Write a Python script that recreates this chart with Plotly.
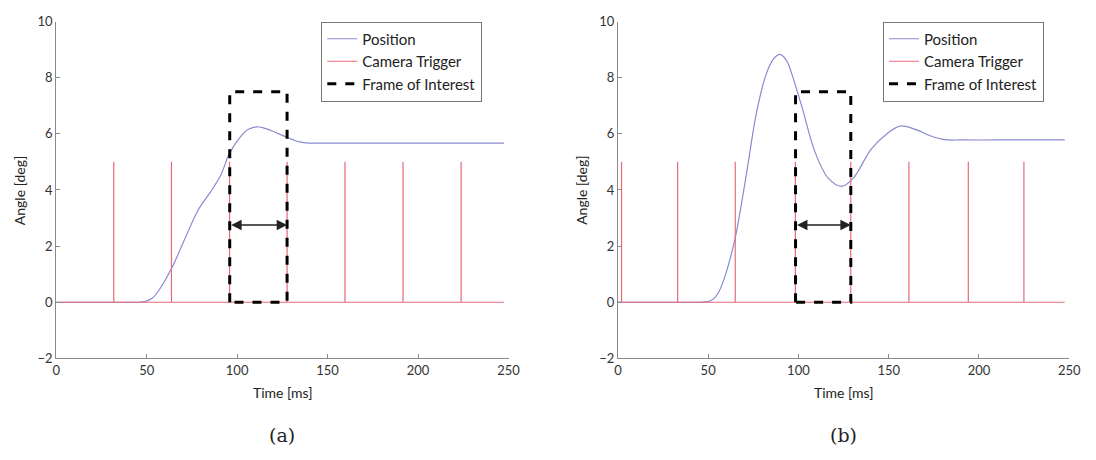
import plotly.graph_objects as go

# ---- data ----
time_a = [0, 20, 40, 46, 49, 53, 56.5, 63.7, 71, 78.3, 85.5, 91, 95.5, 101.9, 106, 110.9, 115, 120, 127.3, 134.5,
          140, 150, 170, 200, 230, 247.5]
angle_a = [0, 0, 0, 0, 0.02, 0.14, 0.4, 1.2, 2.24, 3.27, 3.95, 4.53, 5.27, 5.9, 6.15, 6.25, 6.2, 6.08, 5.88, 5.71,
           5.67, 5.67, 5.67, 5.67, 5.67, 5.67]

time_b = [0, 20, 40, 46, 50, 53, 55.5, 58.4, 64.8, 71.1, 76.6, 82, 86, 89.7, 93.5, 96.6, 102, 109.3, 116.6,
          123.9, 130.3, 140.3, 149.4, 156.7, 165.8, 173, 181.2, 190, 210, 230, 247.5]
angle_b = [0, 0, 0, 0, 0.02, 0.12, 0.32, 0.75, 2.24, 4.53, 6.7, 8.1, 8.65, 8.83, 8.6, 8.08, 6.94, 5.33, 4.41,
           4.13, 4.41, 5.45, 6.02, 6.28, 6.13, 5.93, 5.79, 5.78, 5.78, 5.78, 5.78]

triggers_a = [31.8, 63.7, 95.8, 127.6, 159.6, 191.7, 223.8]
triggers_b = [2.0, 33.1, 65.0, 98.3, 129.0, 161.2, 194.1, 224.9]
trigger_height = 5
t_end = 247.5

frame_a = (95.9, 127.6)
frame_b = (98.4, 129.0)
frame_top = 7.5
arrow_y = 2.75

x_ticks = [0, 50, 100, 150, 200, 250]
y_ticks = [-2, 0, 2, 4, 6, 8, 10]
panel_labels = ["(a)", "(b)"]

BLUE = "#8a8ad0"
RED = "#e8697a"
AXIS = "#8a8a8a"
FONT = "Lato"


def trigger_xy(times):
    xs, ys = [0], [0]
    for t in times:
        xs += [t, t, t]
        ys += [0, trigger_height, 0]
    xs.append(t_end)
    ys.append(0)
    return xs, ys


fig = go.Figure()

panels = [
    (time_a, angle_a, triggers_a, frame_a, "x", "y", "legend"),
    (time_b, angle_b, triggers_b, frame_b, "x2", "y2", "legend2"),
]

for tm, ang, trig, fr, xa, ya, lg in panels:
    fig.add_trace(go.Scatter(x=tm, y=ang, mode="lines", name="Position",
                             line=dict(color=BLUE, width=1.2, shape="spline", smoothing=0.9),
                             xaxis=xa, yaxis=ya, legend=lg))
    tx, ty = trigger_xy(trig)
    fig.add_trace(go.Scatter(x=tx, y=ty, mode="lines", name="Camera Trigger",
                             line=dict(color=RED, width=1.2),
                             xaxis=xa, yaxis=ya, legend=lg))
    fig.add_trace(go.Scatter(x=[fr[0], fr[0], fr[1], fr[1], fr[0]],
                             y=[0, frame_top, frame_top, 0, 0], mode="lines",
                             name="Frame of Interest",
                             line=dict(color="black", width=3, dash="dash"),
                             xaxis=xa, yaxis=ya, legend=lg))
    fig.add_annotation(x=fr[1], y=arrow_y, ax=fr[0], ay=arrow_y, xref=xa, yref=ya,
                       axref=xa, ayref=ya, text="", showarrow=True,
                       arrowhead=2, arrowside="end+start", arrowsize=1.3,
                       arrowwidth=1.6, arrowcolor="#222222")

W, H = 1096, 460
dom_y = [1 - 363 / H, 1 - 14 / H]
dom_xa = [53 / W, 512 / W]
dom_xb = [623 / W, 1081 / W]

axis_common = dict(showgrid=False, zeroline=False, showline=True, linecolor=AXIS, linewidth=1,
                   ticks="inside", ticklen=4, tickcolor=AXIS,
                   tickfont=dict(family=FONT, size=13, color="#333333"))

legend_common = dict(xanchor="left", yanchor="top",
                     bordercolor="#777777", borderwidth=1, bgcolor="white",
                     font=dict(family=FONT, size=15, color="#222222"), tracegroupgap=0)

fig.update_layout(
    width=W, height=H, margin=dict(l=0, r=0, t=0, b=0),
    paper_bgcolor="white", plot_bgcolor="white",
    font=dict(family=FONT, color="#222222"),
    xaxis=dict(domain=dom_xa, range=[0, 250], tickvals=x_ticks, anchor="y", **axis_common),
    yaxis=dict(domain=dom_y, range=[-2, 10], tickvals=y_ticks, anchor="x", **axis_common),
    xaxis2=dict(domain=dom_xb, range=[0, 250], tickvals=x_ticks, anchor="y2", **axis_common),
    yaxis2=dict(domain=dom_y, range=[-2, 10], tickvals=y_ticks, anchor="x2", **axis_common),
    legend=dict(x=322 / W, y=1 - 14 / H, **legend_common),
    legend2=dict(x=892 / W, y=1 - 14 / H, **legend_common),
)

for cx, lab in [((dom_xa[0] + dom_xa[1]) / 2, panel_labels[0]), ((dom_xb[0] + dom_xb[1]) / 2, panel_labels[1])]:
    fig.add_annotation(x=cx, y=1 - 398 / H, xref="paper", yref="paper", text="Time [ms]",
                       xanchor="center", yanchor="middle",
                       showarrow=False, font=dict(family=FONT, size=14, color="#222222"))
    fig.add_annotation(x=cx, y=1 - 442 / H, xref="paper", yref="paper", text=lab,
                       xanchor="center", yanchor="middle",
                       showarrow=False, font=dict(family="DejaVu Serif", size=19, color="#222222"))

for px in [16, 586]:
    fig.add_annotation(x=px / W, y=1 - 189 / H, xref="paper", yref="paper", text="Angle [deg]",
                       xanchor="center", yanchor="middle",
                       textangle=-90, showarrow=False,
                       font=dict(family=FONT, size=14, color="#222222"))

fig.write_html("out.html")
